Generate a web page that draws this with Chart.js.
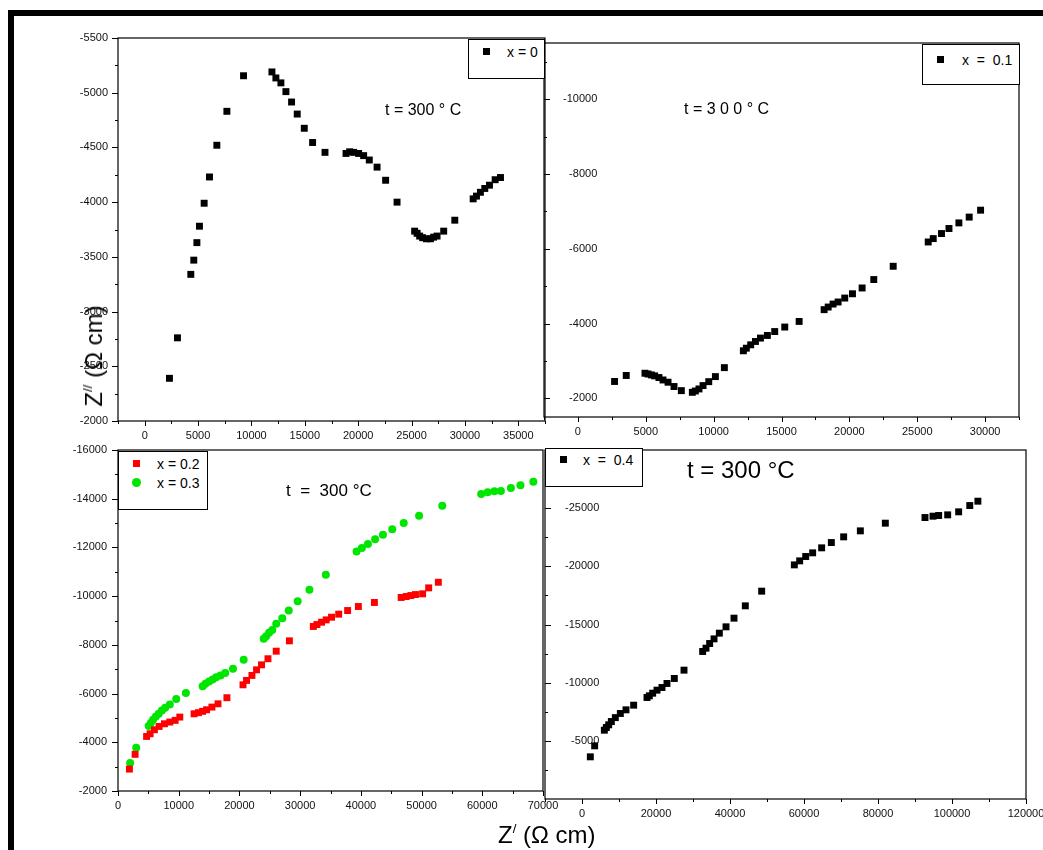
<!DOCTYPE html>
<html>
<head>
<meta charset="utf-8">
<title>Impedance plots at 300 °C</title>
<script src="https://cdn.jsdelivr.net/npm/chart.js@4.4.0/dist/chart.umd.min.js"></script>
<style>
  html, body { margin: 0; padding: 0; background: #fff; overflow: hidden; }
  #page { position: relative; width: 1043px; height: 850px; font-family: 'Liberation Sans', Arial, sans-serif; color: #000; }
  canvas { position: absolute; }
  .bar { position: absolute; background: #000; }
  .txt { position: absolute; white-space: pre; line-height: 1; }
  .legend { position: absolute; border: 1.5px solid #000; background: #fff; box-sizing: border-box; }
  .mk { position: absolute; }
  sup { font-size: 55%; vertical-align: 0.75em; line-height: 0; }
</style>
</head>
<body>
<div id="page">
  <canvas id="cA"></canvas>
  <canvas id="cB"></canvas>
  <canvas id="cC"></canvas>
  <canvas id="cD"></canvas>

  <!-- outer frame -->
  <div class="bar" style="left:8px;top:10px;width:1035px;height:6px"></div>
  <div class="bar" style="left:8px;top:10px;width:6px;height:840px"></div>

  <!-- legends -->
  <div class="legend" style="left:468px;top:39px;width:77px;height:40px"></div>
  <div class="mk" style="left:483px;top:48px;width:7px;height:7px;background:#000"></div>
  <div class="txt" style="left:507px;top:45px;font-size:14px">x = 0</div>

  <div class="legend" style="left:922px;top:44px;width:98px;height:41px"></div>
  <div class="mk" style="left:937px;top:56px;width:7px;height:7px;background:#000"></div>
  <div class="txt" style="left:962px;top:53px;font-size:14px">x  =  0.1</div>

  <div class="legend" style="left:118px;top:451px;width:90px;height:59px"></div>
  <div class="mk" style="left:133px;top:460px;width:7px;height:7px;background:#f00"></div>
  <div class="mk" style="left:132px;top:478px;width:9px;height:9px;border-radius:50%;background:#00e600"></div>
  <div class="txt" style="left:157px;top:457px;font-size:14px">x = 0.2</div>
  <div class="txt" style="left:157px;top:476px;font-size:14px">x = 0.3</div>

  <div class="legend" style="left:545px;top:448px;width:98px;height:39px"></div>
  <div class="mk" style="left:560px;top:456px;width:7px;height:7px;background:#000"></div>
  <div class="txt" style="left:583px;top:453px;font-size:14px">x  =  0.4</div>

  <!-- temperature notes -->
  <div class="txt" style="left:385px;top:102px;font-size:16px">t = 300 ° C</div>
  <div class="txt" style="left:684px;top:101px;font-size:16px">t = 3 0 0 ° C</div>
  <div class="txt" style="left:286px;top:482px;font-size:17px">t  =  300 °C</div>
  <div class="txt" style="left:687px;top:458px;font-size:24px">t = 300 °C</div>

  <!-- shared axis titles -->
  <div class="txt" style="left:94px;top:356px;font-size:24px;transform:translate(-50%,-50%) rotate(-90deg)">Z<sup>//</sup> (Ω cm)</div>
  <div class="txt" style="left:498px;top:823px;font-size:24px">Z<sup>/</sup> (Ω cm)</div>
</div>

<script>
// x = 0
const x0Re = [2320, 3070, 4320, 4600, 4890, 5130, 5570, 6070, 6760, 7700, 9260, 11920, 12290, 12760, 13230, 13760, 14290, 14950, 15730, 16890,
  18860, 19200, 19570, 20040, 20510, 21040, 21770, 22570, 23640, 25290, 25520, 25760, 26040, 26390, 26770, 27070, 27390, 28010, 29050,
  30770, 31080, 31450, 31860, 32300, 32830, 33330];
const x0Im = [-2390, -2760, -3340, -3470, -3630, -3780, -3990, -4230, -4520, -4830, -5155, -5190, -5135, -5090, -5010, -4915, -4805, -4675, -4545, -4455,
  -4445, -4460, -4455, -4445, -4425, -4385, -4320, -4200, -4000, -3735, -3715, -3690, -3675, -3665, -3665, -3680, -3690, -3735, -3835,
  -4030, -4055, -4090, -4125, -4155, -4205, -4225];

// x = 0.1
const x01Re = [2700, 3560, 4940, 5160, 5410, 5650, 5970, 6270, 6640, 7080, 7620, 8430, 8650, 8920, 9220, 9640, 10130, 10790, 12190, 12410,
  12730, 13080, 13450, 13960, 14500, 15240, 16300, 18140, 18440, 18800, 19170, 19660, 20230, 20940, 21800, 23230, 25810, 26180, 26790,
  27340, 28070, 28830, 29670];
const x01Im = [-2450, -2610, -2670, -2650, -2625, -2600, -2555, -2490, -2430, -2315, -2205, -2160, -2195, -2250, -2340, -2445, -2580, -2820, -3270, -3340,
  -3430, -3520, -3610, -3680, -3785, -3905, -4055, -4370, -4440, -4520, -4575, -4680, -4795, -4950, -5175, -5530, -6180, -6270, -6405,
  -6540, -6690, -6845, -7030];

// x = 0.2
const x02Re = [1880, 2820, 4710, 5290, 6000, 6770, 7650, 8530, 9410, 10180, 12530, 13240, 13940, 14590, 15470, 16470, 17940, 20590, 21170, 22060,
  22820, 23640, 24700, 26060, 28230, 32170, 32760, 33530, 34290, 35170, 36350, 37820, 39590, 42230, 46640, 47470, 48230, 49000, 50170,
  51170, 52760];
const x02Im = [-2900, -3505, -4240, -4350, -4515, -4650, -4760, -4830, -4900, -5035, -5170, -5215, -5270, -5335, -5445, -5580, -5830, -6360, -6540, -6745,
  -6975, -7180, -7430, -7740, -8165, -8755, -8835, -8930, -9025, -9135, -9260, -9410, -9575, -9740, -9945, -9985, -10025, -10065, -10095,
  -10340, -10570];

// x = 0.3
const x03Re = [2000, 3000, 5060, 5410, 5770, 6240, 6710, 7240, 7770, 8530, 9590, 11180, 13940, 14410, 15000, 15590, 16180, 16880, 17650, 18940,
  20700, 24000, 24410, 24880, 25410, 26060, 27060, 28120, 29590, 31530, 34230, 39290, 40170, 41170, 42350, 43640, 45170, 47060, 49590,
  53410, 59820, 60880, 62000, 63060, 64710, 66290, 68410];
const x03Im = [-3150, -3780, -4665, -4790, -4925, -5060, -5170, -5310, -5420, -5555, -5775, -6020, -6305, -6400, -6500, -6580, -6675, -6745, -6840, -7020,
  -7385, -8250, -8355, -8495, -8615, -8865, -9095, -9410, -9795, -10260, -10875, -11830, -11980, -12145, -12335, -12525, -12745, -13005, -13305,
  -13715, -14195, -14265, -14305, -14320, -14440, -14550, -14700];

// x = 0.4
const x04Re = [2250, 3420, 6040, 6580, 7210, 7930, 9010, 10360, 11890, 13960, 17570, 18200, 19100, 20270, 21620, 22970, 24950, 27570, 32610, 33510,
  34500, 35680, 37120, 38920, 41080, 44140, 48560, 57390, 58830, 60460, 62340, 64770, 67390, 70720, 75230, 81980, 92700, 94870, 96400,
  98830, 101800, 104800, 107000];
const x04Im = [-3625, -4570, -5915, -6145, -6375, -6660, -6995, -7350, -7665, -8065, -8725, -8870, -9095, -9355, -9585, -9930, -10360, -11075, -12680, -12965,
  -13365, -13765, -14255, -14800, -15545, -16605, -17865, -20125, -20470, -20845, -21160, -21590, -22045, -22535, -23050, -23710, -24195, -24310, -24370,
  -24425, -24685, -25225, -25600];

// labelled ticks of each panel
const ticksAx = [0, 5000, 10000, 15000, 20000, 25000, 30000, 35000];
const ticksAy = [-5500, -5000, -4500, -4000, -3500, -3000, -2500, -2000];
const ticksBx = [0, 5000, 10000, 15000, 20000, 25000, 30000];
const ticksBy = [-10000, -8000, -6000, -4000, -2000];
const ticksCx = [0, 10000, 20000, 30000, 40000, 50000, 60000, 70000];
const ticksCy = [-16000, -14000, -12000, -10000, -8000, -6000, -4000, -2000];
const ticksDx = [0, 20000, 40000, 60000, 80000, 100000, 120000];
const ticksDy = [-25000, -20000, -15000, -10000, -5000];

function range(from, to, step) {
  const out = [];
  for (let v = from; v <= to; v += step) out.push(v);
  return out;
}

function pts(re, im) {
  return re.map((v, i) => ({ x: v, y: im[i] }));
}

Chart.defaults.font.family = "'Liberation Sans', Arial, sans-serif";
Chart.defaults.color = '#111';

const tickSets = {};

// box round the plot area plus major/minor tick marks
const frameTicks = {
  id: 'frameTicks',
  afterDraw(chart) {
    const t = tickSets[chart.canvas.id];
    const ctx = chart.ctx, a = chart.chartArea;
    const xs = chart.scales.x, ys = chart.scales.y;
    ctx.save();
    ctx.strokeStyle = '#000';
    ctx.lineWidth = 1.2;
    ctx.strokeRect(a.left, a.top, a.right - a.left, a.bottom - a.top);
    ctx.lineWidth = 1;
    ctx.beginPath();
    const yDir = t.yInside ? 1 : -1;
    const xTick = (v, len) => {
      const p = Math.round(xs.getPixelForValue(v)) + 0.5;
      ctx.moveTo(p, a.bottom);
      ctx.lineTo(p, a.bottom + len);
    };
    const yTick = (v, len) => {
      const p = Math.round(ys.getPixelForValue(v)) + 0.5;
      ctx.moveTo(a.left, p);
      ctx.lineTo(a.left + yDir * len, p);
    };
    t.xMajor.forEach(v => xTick(v, 5));
    t.xMinor.forEach(v => xTick(v, 3));
    t.yMajor.forEach(v => yTick(v, 6));
    t.yMinor.forEach(v => yTick(v, 3));
    ctx.stroke();
    ctx.restore();
  }
};

function makePanel(id, area, pad, yW, cfg) {
  const cv = document.getElementById(id);
  const w = area.right - area.left + pad.l + pad.r;
  const h = area.bottom - area.top + pad.t + pad.b;
  const xH = 20;
  cv.width = w;
  cv.height = h;
  cv.style.left = (area.left - pad.l) + 'px';
  cv.style.top = (area.top - pad.t) + 'px';
  cv.style.width = w + 'px';
  cv.style.height = h + 'px';
  tickSets[id] = cfg.ticks;

  const yTicks = cfg.yInside
    ? { mirror: true, crossAlign: 'far', padding: cfg.yPad, font: { size: 11 }, autoSkip: false, callback: v => String(v) }
    : { padding: cfg.yPad, font: { size: 11 }, autoSkip: false, callback: v => String(v) };

  new Chart(cv, {
    type: 'scatter',
    data: { datasets: cfg.datasets },
    options: {
      responsive: false,
      animation: false,
      devicePixelRatio: 1,
      events: [],
      layout: { padding: { left: pad.l - yW, top: pad.t, right: pad.r, bottom: pad.b - xH } },
      plugins: { legend: { display: false }, tooltip: { enabled: false } },
      scales: {
        x: {
          type: 'linear',
          min: cfg.xMin,
          max: cfg.xMax,
          grid: { display: false, drawTicks: true, tickLength: 5 },
          border: { display: false },
          ticks: { padding: 3, font: { size: 11 }, autoSkip: false, maxRotation: 0, callback: v => String(v) },
          afterBuildTicks: s => { s.ticks = cfg.ticks.xMajor.map(v => ({ value: v })); },
          afterFit: s => { s.height = xH; }
        },
        y: {
          type: 'linear',
          reverse: true,
          min: cfg.yMin,
          max: cfg.yMax,
          grid: { display: false, drawTicks: true, tickLength: 6 },
          border: { display: false },
          ticks: yTicks,
          afterBuildTicks: s => { s.ticks = cfg.ticks.yMajor.map(v => ({ value: v })); },
          afterFit: s => { s.width = yW; }
        }
      }
    },
    plugins: [frameTicks]
  });
}

function squares(re, im, color) {
  return { data: pts(re, im), pointStyle: 'rect', pointRadius: 4.9, backgroundColor: color, borderWidth: 0, showLine: false };
}

makePanel('cA', { left: 118, top: 38, right: 545, bottom: 421 }, { l: 60, t: 12, r: 25, b: 30 }, 50, {
  xMin: -2500, xMax: 37500, yMin: -5500, yMax: -2000, yPad: 4,
  ticks: { xMajor: ticksAx, xMinor: range(-2500, 37500, 5000), yMajor: ticksAy, yMinor: range(-5250, -2250, 500), yInside: false },
  datasets: [squares(x0Re, x0Im, '#000')]
});

// labels sit inside the plot box here, so the top/bottom margins must cover the label padding
makePanel('cB', { left: 544, top: 43, right: 1019, bottom: 417 }, { l: 10, t: 32, r: 25, b: 32 }, 5, {
  xMin: -2500, xMax: 32500, yMin: -11500, yMax: -1500, yPad: 19, yInside: true,
  ticks: { xMajor: ticksBx, xMinor: range(-2500, 32500, 5000), yMajor: ticksBy, yMinor: range(-11000, -3000, 2000), yInside: true },
  datasets: [squares(x01Re, x01Im, '#000')]
});

makePanel('cC', { left: 118, top: 450, right: 543, bottom: 791 }, { l: 60, t: 12, r: 25, b: 30 }, 50, {
  xMin: 0, xMax: 70000, yMin: -16000, yMax: -2000, yPad: 5,
  ticks: { xMajor: ticksCx, xMinor: range(5000, 65000, 10000), yMajor: ticksCy, yMinor: range(-15000, -3000, 2000), yInside: false },
  datasets: [
    squares(x02Re, x02Im, '#f00'),
    { data: pts(x03Re, x03Im), pointStyle: 'circle', pointRadius: 4, backgroundColor: '#00e600', borderWidth: 0, showLine: false }
  ]
});

makePanel('cD', { left: 545, top: 450, right: 1026, bottom: 799 }, { l: 10, t: 32, r: 30, b: 32 }, 5, {
  xMin: -10000, xMax: 120000, yMin: -30000, yMax: 0, yPad: 20, yInside: true,
  ticks: { xMajor: ticksDx, xMinor: range(-10000, 110000, 20000), yMajor: ticksDy, yMinor: range(-27500, -2500, 5000), yInside: true },
  datasets: [squares(x04Re, x04Im, '#000')]
});
</script>
</body>
</html>
